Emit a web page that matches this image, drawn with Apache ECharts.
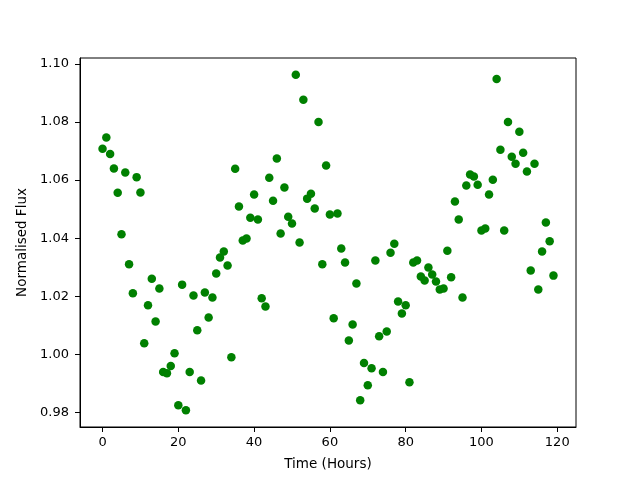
<!DOCTYPE html>
<html>
<head>
<meta charset="utf-8">
<script src="https://cdn.jsdelivr.net/npm/echarts@6/dist/echarts.min.js"></script>
<style>
  html, body { margin: 0; padding: 0; background: #fff; }
  #chart { width: 640px; height: 480px; }
</style>
</head>
<body>
<div id="chart"></div>
<script>
// hours of each measurement
const hours = [];
for (let h = 0; h < 120; h++) hours.push(h);

// normalised flux, one per hour
const flux = [
  1.0708, 1.0746, 1.0690, 1.0640, 1.0556, 1.0413, 1.0626, 1.0310, 1.0210, 1.0610,
  1.0557, 1.0038, 1.0169, 1.0260, 1.0113, 1.0227, 0.9939, 0.9935, 0.9960, 1.0004,
  0.9825, 1.0240, 0.9808, 0.9939, 1.0203, 1.0083, 0.9910, 1.0213, 1.0127, 1.0196,
  1.0278, 1.0333, 1.0354, 1.0306, 0.9990, 1.0639, 1.0509, 1.0392, 1.0399, 1.0470,
  1.0550, 1.0464, 1.0193, 1.0165, 1.0608, 1.0529, 1.0674, 1.0416, 1.0574, 1.0474,
  1.0450, 1.0962, 1.0385, 1.0876, 1.0536, 1.0553, 1.0502, 1.0800, 1.0310, 1.0650,
  1.0481, 1.0124, 1.0485, 1.0364, 1.0316, 1.0048, 1.0103, 1.0244, 0.9842, 0.9970,
  0.9894, 0.9952, 1.0323, 1.0062, 0.9939, 1.0079, 1.0350, 1.0381, 1.0182, 1.0141,
  1.0169, 0.9904, 1.0316, 1.0323, 1.0268, 1.0254, 1.0299, 1.0275, 1.0251, 1.0223,
  1.0227, 1.0357, 1.0265, 1.0526, 1.0464, 1.0196, 1.0581, 1.0619, 1.0612, 1.0584,
  1.0426, 1.0433, 1.0550, 1.0601, 1.0948, 1.0704, 1.0426, 1.0800, 1.0680, 1.0656,
  1.0766, 1.0694, 1.0629, 1.0289, 1.0656, 1.0223, 1.0354, 1.0454, 1.0389, 1.0271
];

// tick positions
const xTicks = [0, 20, 40, 60, 80, 100, 120];
const yTicks = [0.98, 1.00, 1.02, 1.04, 1.06, 1.08, 1.10];

const points = hours.map((h, i) => [h, flux[i]]);

const chart = echarts.init(document.getElementById('chart'), null, { renderer: 'canvas' });

const font = 'DejaVu Sans';

const option = {
  animation: false,
  backgroundColor: '#ffffff',
  grid: {
    left: 80,
    right: 64,
    top: 58,
    bottom: 53,
    show: true,
    borderColor: '#000',
    borderWidth: 1,
    containLabel: false
  },
  xAxis: {
    type: 'value',
    min: -5.95,
    max: 124.95,
    name: 'Time (Hours)',
    nameLocation: 'middle',
    nameGap: 30,
    nameTextStyle: { color: '#000', fontSize: 13.5, fontFamily: font },
    axisLine: { show: true, onZero: false, lineStyle: { color: '#000', width: 1 } },
    axisTick: { show: true, length: 5, customValues: xTicks, lineStyle: { color: '#000' } },
    axisLabel: {
      customValues: xTicks,
      color: '#000',
      fontSize: 13,
      fontFamily: font,
      margin: 9
    },
    splitLine: { show: false }
  },
  yAxis: {
    type: 'value',
    min: 0.975,
    max: 1.102,
    name: 'Normalised Flux',
    nameLocation: 'middle',
    nameGap: 43,
    nameTextStyle: { color: '#000', fontSize: 13.5, fontFamily: font },
    axisLine: { show: true, onZero: false, lineStyle: { color: '#000', width: 1 } },
    axisTick: { show: true, length: 5, customValues: yTicks, lineStyle: { color: '#000' } },
    axisLabel: {
      customValues: yTicks,
      color: '#000',
      fontSize: 13,
      fontFamily: font,
      margin: 11,
      formatter: v => v.toFixed(2)
    },
    splitLine: { show: false }
  },
  series: [
    {
      type: 'scatter',
      data: points,
      symbol: 'circle',
      symbolSize: 8.5,
      itemStyle: { color: '#008000', opacity: 1 }
    }
  ]
};

chart.setOption(option);
</script>
</body>
</html>
